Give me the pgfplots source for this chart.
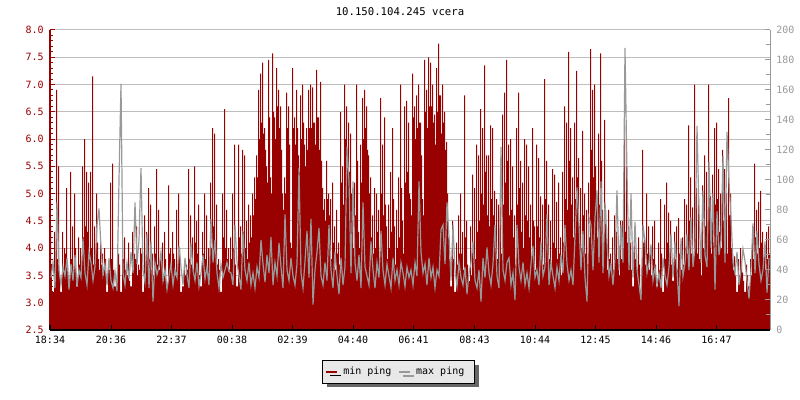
\documentclass[border=0pt]{standalone}
\usepackage{fontspec}
\setmainfont{DejaVu Sans Mono}
\usepackage{pgfplots}
\pgfplotsset{compat=1.18}
\usetikzlibrary{shadows}
\definecolor{pred}{HTML}{990000}
\definecolor{pgray}{HTML}{999999}
\definecolor{pgrid}{HTML}{BDBDBD}
\definecolor{plegbg}{HTML}{E8E8E8}
\begin{document}
\begin{tikzpicture}
\useasboundingbox (0pt,0pt) rectangle (600pt,300pt);
\node[font=\fontsize{8}{9}\selectfont] at (300pt,291pt) {10.150.104.245 vcera};
\begin{axis}[
  at={(37.5pt,52.5pt)}, anchor=south west, scale only axis,
  width=540pt, height=225pt,
  xmin=0, xmax=1440, ymin=2.5, ymax=8,
  axis x line=none, axis y line=left,
  axis line style={-}, every outer y axis line/.append style={-},
  y axis line style={pred, line width=0.75pt},
  ytick={2.5,3,...,8}, minor y tick num=4,
  tick align=inside, major tick length=3.75pt, minor tick length=2.25pt,
  y tick style={pred, line width=0.75pt},
  ymajorgrids, grid style={pgrid, line width=0.75pt},
  yticklabel style={pred, font=\fontsize{7.5}{8}\selectfont, inner sep=0pt, xshift=-4.5pt},
  /pgf/number format/fixed, /pgf/number format/fixed zerofill,
  /pgf/number format/precision=1, /pgf/number format/assume math mode=true,
]
\addplot[fill=pred, draw=none, const plot] table[row sep=\\, x expr=\coordindex*2, y index=0] {v\\
4.4\\3.7\\3.2\\3.2\\4.3\\3.9\\6.9\\3.8\\5.5\\3.5\\3.2\\3.2\\4.3\\3.6\\4.0\\3.9\\5.1\\3.7\\3.3\\3.3\\
5.4\\3.8\\4.4\\3.6\\5.0\\4.0\\3.3\\3.3\\4.2\\3.7\\4.0\\3.6\\5.5\\4.2\\6.0\\4.4\\5.4\\4.3\\5.2\\3.8\\
5.4\\4.0\\7.15\\3.7\\4.4\\3.8\\5.0\\4.1\\3.8\\3.6\\4.1\\3.7\\3.9\\3.5\\4.0\\3.8\\3.2\\3.2\\3.7\\3.6\\
5.2\\3.8\\5.55\\3.6\\3.3\\3.3\\3.4\\3.4\\3.9\\3.7\\3.2\\3.2\\4.0\\3.8\\4.2\\3.6\\3.7\\3.5\\4.1\\3.4\\
3.3\\3.3\\4.3\\3.6\\3.9\\3.8\\4.4\\3.5\\3.7\\3.6\\4.0\\3.9\\3.2\\3.2\\4.6\\3.7\\4.3\\4.0\\5.1\\3.8\\
4.8\\3.6\\3.9\\3.5\\4.4\\3.9\\5.45\\3.7\\4.7\\3.6\\3.8\\3.7\\4.1\\3.4\\4.3\\3.8\\3.3\\3.3\\5.15\\3.9\\
4.0\\3.6\\4.3\\3.9\\3.8\\3.5\\4.7\\3.7\\5.0\\4.0\\3.2\\3.2\\3.3\\3.3\\3.6\\3.5\\3.7\\3.6\\5.45\\3.8\\
4.6\\3.7\\4.2\\3.6\\5.5\\4.1\\4.5\\3.9\\4.8\\3.5\\3.3\\3.3\\4.3\\3.9\\5.0\\3.8\\4.6\\3.6\\4.0\\3.8\\
5.2\\4.0\\6.2\\4.4\\6.1\\3.9\\4.8\\3.7\\3.8\\3.6\\3.2\\3.2\\5.0\\4.2\\6.55\\4.0\\4.7\\3.8\\4.0\\3.6\\
4.2\\3.8\\5.0\\4.0\\5.9\\3.7\\3.3\\3.3\\5.9\\4.2\\4.4\\3.9\\5.8\\4.3\\5.7\\4.0\\4.5\\3.8\\4.8\\4.1\\
4.6\\4.2\\5.0\\4.6\\5.3\\4.9\\5.7\\5.3\\6.9\\6.0\\7.2\\6.3\\7.4\\6.1\\6.2\\5.8\\5.5\\5.2\\7.45\\6.4\\
5.3\\5.0\\7.57\\6.5\\6.4\\6.0\\7.3\\6.6\\6.9\\6.2\\6.6\\5.8\\5.0\\4.7\\5.3\\5.0\\6.85\\6.2\\6.6\\5.9\\
4.1\\4.0\\7.3\\6.2\\6.4\\5.9\\6.9\\6.2\\5.7\\5.4\\6.8\\6.0\\7.0\\6.3\\5.9\\5.5\\6.2\\5.8\\6.9\\6.2\\
7.0\\6.2\\6.95\\6.3\\6.3\\5.9\\7.27\\6.4\\6.4\\5.8\\7.05\\5.6\\5.1\\4.7\\4.9\\4.5\\5.6\\4.9\\5.0\\4.6\\
4.9\\3.8\\5.2\\4.1\\4.4\\3.6\\4.7\\3.9\\4.1\\3.7\\6.5\\5.2\\5.5\\4.8\\7.0\\6.0\\6.6\\5.8\\6.3\\5.4\\
6.1\\5.0\\4.5\\4.0\\5.2\\4.6\\7.0\\5.6\\4.3\\4.0\\5.9\\5.2\\6.75\\6.0\\6.9\\6.2\\6.6\\5.8\\5.7\\5.0\\
5.3\\4.2\\4.6\\3.9\\5.1\\4.0\\5.0\\4.3\\4.7\\3.8\\6.75\\5.0\\5.9\\4.6\\6.4\\4.8\\4.4\\3.8\\4.8\\4.0\\
5.4\\4.3\\6.2\\4.9\\4.4\\3.7\\4.7\\4.0\\5.3\\4.2\\7.0\\5.1\\4.5\\3.9\\6.6\\5.2\\6.7\\5.4\\6.3\\5.0\\
4.9\\4.6\\7.2\\6.4\\6.6\\6.0\\6.8\\6.2\\7.0\\6.3\\6.3\\5.7\\4.9\\4.6\\7.45\\6.5\\6.9\\6.2\\7.5\\6.6\\
7.4\\6.6\\7.0\\6.3\\6.45\\5.9\\7.3\\6.5\\7.75\\6.8\\6.8\\6.1\\7.0\\6.3\\6.5\\5.8\\5.95\\5.0\\4.2\\3.8\\
3.3\\3.3\\4.5\\3.8\\3.2\\3.2\\4.1\\3.7\\4.6\\3.9\\5.0\\3.9\\4.3\\3.6\\6.8\\4.2\\4.5\\3.7\\3.4\\3.4\\
4.4\\3.5\\5.35\\4.0\\5.1\\3.8\\5.9\\4.3\\5.7\\4.5\\6.55\\5.0\\6.2\\4.8\\7.35\\5.4\\5.7\\4.6\\5.7\\4.4\\
6.25\\4.9\\6.2\\4.6\\5.05\\4.0\\4.9\\3.8\\4.8\\3.6\\5.0\\3.9\\6.45\\4.8\\6.85\\5.2\\7.45\\5.6\\5.9\\4.6\\
6.0\\4.7\\5.5\\4.2\\4.6\\3.7\\6.2\\4.8\\6.85\\5.1\\5.6\\4.3\\5.2\\4.0\\6.0\\4.6\\5.9\\4.5\\5.5\\4.2\\
4.8\\3.8\\6.2\\4.5\\4.4\\3.6\\5.9\\4.4\\5.65\\4.2\\4.95\\3.9\\4.8\\3.7\\7.1\\4.9\\5.6\\4.3\\4.8\\3.8\\
4.5\\3.6\\5.45\\4.1\\5.35\\4.0\\4.85\\3.8\\5.2\\3.9\\4.2\\3.5\\5.4\\4.1\\6.6\\4.9\\6.3\\4.7\\7.6\\5.6\\
6.2\\4.8\\5.3\\4.2\\6.3\\4.9\\7.25\\5.3\\5.65\\4.4\\5.1\\4.0\\6.15\\4.6\\5.0\\3.9\\4.7\\3.7\\5.2\\4.2\\
7.65\\5.8\\6.9\\5.3\\7.0\\5.5\\5.0\\4.2\\6.1\\4.8\\7.57\\5.6\\4.7\\3.9\\6.35\\4.7\\4.4\\3.6\\4.7\\3.8\\
3.9\\3.7\\4.2\\3.6\\4.6\\3.9\\4.3\\3.8\\4.0\\3.5\\4.5\\3.8\\4.5\\4.0\\6.25\\4.3\\5.5\\4.1\\4.4\\3.7\\
4.1\\3.6\\3.3\\3.3\\4.3\\3.8\\3.9\\3.6\\4.2\\3.7\\3.2\\3.2\\5.8\\4.1\\4.2\\3.7\\5.0\\3.9\\4.4\\3.6\\
3.9\\3.5\\4.4\\3.8\\4.5\\3.7\\3.3\\3.3\\4.1\\3.6\\4.9\\3.9\\3.2\\3.2\\4.8\\3.8\\5.2\\4.1\\4.65\\3.9\\
4.5\\3.7\\3.4\\3.4\\4.3\\3.8\\4.4\\3.6\\4.55\\3.9\\3.9\\3.6\\4.2\\3.7\\4.9\\4.0\\4.8\\3.9\\6.25\\4.5\\
5.3\\3.9\\4.75\\3.7\\7.0\\4.6\\5.1\\3.9\\4.9\\3.8\\4.0\\3.5\\5.15\\4.0\\5.7\\4.4\\5.4\\4.2\\7.0\\5.0\\
4.95\\3.9\\5.35\\4.1\\6.2\\4.8\\6.3\\4.9\\5.45\\4.3\\5.0\\4.0\\5.8\\4.5\\5.45\\4.2\\5.0\\3.9\\6.75\\4.6\\
5.0\\4.0\\3.9\\3.6\\3.85\\3.5\\3.2\\3.2\\3.8\\3.5\\4.0\\3.7\\3.55\\3.4\\3.2\\3.2\\3.7\\3.5\\3.3\\3.3\\
3.8\\3.5\\4.4\\3.8\\5.55\\4.2\\4.7\\3.9\\4.85\\4.0\\5.05\\4.1\\4.3\\3.7\\3.9\\3.6\\4.3\\3.8\\4.4\\3.9\\
3.9\\
} \closedcycle;
\end{axis}
\begin{axis}[
  at={(37.5pt,52.5pt)}, anchor=south west, scale only axis,
  width=540pt, height=225pt,
  xmin=0, xmax=1440, ymin=0, ymax=200,
  axis x line=bottom, axis y line=right,
  axis line style={-}, every outer x axis line/.append style={-}, every outer y axis line/.append style={-},
  x axis line style={black, line width=0.75pt},
  y axis line style={pgray, line width=0.75pt},
  xtick={0,122,243,364,485,606,727,849,970,1091,1212,1333},
  xticklabels={18:34,20:36,22:37,00:38,02:39,04:40,06:41,08:43,10:44,12:45,14:46,16:47},
  ytick={0,20,...,200}, minor y tick num=1,
  tick align=inside, major tick length=3.75pt, minor tick length=3pt,
  x tick style={black, line width=0.75pt},
  y tick style={pgray, line width=0.75pt},
  xticklabel style={black, font=\fontsize{7.5}{8}\selectfont, yshift=-1pt},
  yticklabel style={pgray, font=\fontsize{7.5}{8}\selectfont, inner sep=0pt, xshift=4.5pt},
  /pgf/number format/assume math mode=true,
  legend columns=2,
  legend style={at={(0.378,-0.1)}, anchor=north west, draw=black, line width=0.75pt,
    fill=plegbg, font=\fontsize{7.5}{8}\selectfont, inner xsep=2pt, inner ysep=3pt,
    drop shadow={shadow xshift=3pt, shadow yshift=-3pt, fill=black!60, opacity=1},
    /tikz/every odd column/.append style={column sep=2pt},
    /tikz/every even column/.append style={column sep=3pt}},
]
\addlegendimage{legend image code/.code={\draw[pred, line width=1.5pt] (0pt,0pt) -- (8pt,0pt);}}
\addlegendentry{min ping}
\addplot[pgray, line width=0.9pt, mark=none,
  legend image code/.code={\draw[pgray, line width=1.5pt] (0pt,0pt) -- (8pt,0pt);}]
  table[row sep=\\, x expr=\coordindex*4+2, y index=0] {v\\
35\\45\\28\\85\\40\\30\\42\\36\\48\\27\\
44\\33\\50\\29\\40\\35\\61\\38\\30\\52\\
45\\33\\42\\70\\81\\55\\37\\44\\30\\48\\
33\\28\\39\\26\\100\\164\\38\\30\\45\\34\\
52\\38\\85\\44\\60\\108\\40\\32\\64\\28\\
59\\19\\45\\37\\42\\52\\33\\40\\27\\36\\
44\\30\\40\\35\\56\\42\\30\\48\\37\\28\\
58\\40\\33\\45\\29\\38\\50\\34\\42\\30\\
74\\45\\60\\38\\28\\44\\35\\40\\45\\39\\
38\\30\\70\\45\\36\\27\\66\\40\\33\\45\\
30\\38\\28\\42\\35\\60\\44\\32\\50\\38\\
62\\30\\45\\36\\58\\42\\28\\77\\40\\33\\
48\\36\\30\\44\\108\\38\\28\\46\\66\\35\\
74\\17\\40\\52\\68\\36\\30\\45\\33\\70\\
40\\28\\52\\36\\24\\48\\30\\42\\122\\99\\
38\\99\\45\\33\\50\\28\\85\\42\\36\\30\\
59\\40\\28\\45\\35\\66\\40\\30\\44\\36\\
28\\48\\33\\40\\30\\45\\38\\29\\42\\35\\
40\\30\\45\\36\\99\\52\\38\\44\\30\\48\\
35\\42\\28\\40\\36\\67\\70\\44\\85\\62\\
33\\70\\40\\29\\45\\35\\30\\42\\24\\38\\
45\\59\\33\\28\\40\\19\\48\\35\\55\\38\\
30\\44\\70\\36\\28\\122\\40\\33\\45\\48\\
30\\38\\20\\70\\42\\33\\45\\30\\38\\28\\
44\\56\\35\\40\\30\\59\\36\\42\\77\\30\\
45\\36\\28\\42\\33\\50\\38\\70\\44\\33\\
40\\30\\62\\95\\70\\40\\66\\35\\19\\75\\
70\\40\\75\\93\\45\\99\\38\\85\\59\\36\\
44\\30\\48\\93\\40\\70\\45\\188\\104\\40\\
91\\35\\72\\40\\30\\20\\70\\59\\38\\45\\
57\\33\\42\\30\\38\\28\\48\\36\\30\\42\\
64\\35\\59\\40\\16\\61\\36\\45\\64\\40\\
75\\42\\55\\136\\79\\45\\93\\50\\42\\112\\
55\\91\\27\\79\\50\\60\\116\\45\\132\\99\\
75\\45\\38\\52\\30\\40\\54\\46\\33\\21\\
40\\71\\38\\66\\44\\33\\40\\59\\25\\48\\
};
\addlegendentry{\makebox[40pt][l]{max ping}}
\end{axis}
\end{tikzpicture}
\end{document}
